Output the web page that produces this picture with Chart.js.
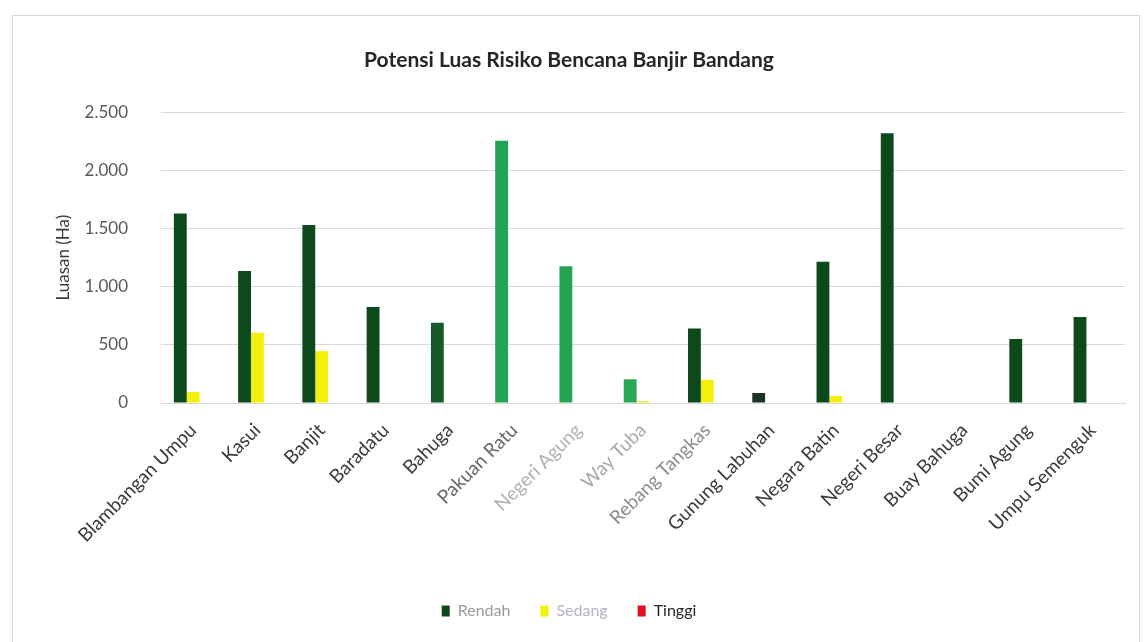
<!DOCTYPE html>
<html lang="id">
<head>
<meta charset="utf-8">
<title>Potensi Luas Risiko Bencana Banjir Bandang</title>
<script src="https://cdn.jsdelivr.net/npm/chart.js@4.4.1/dist/chart.umd.min.js"></script>
<style>
    html, body { margin: 0; padding: 0; background: #ffffff; }
    #chart-box {
        position: absolute;
        left: 12px;
        top: 15px;
        width: 1128px;
        height: 640px;
        border: 1px solid #d9d9d9;
        box-sizing: border-box;
    }
</style>
</head>
<body>
<div id="chart-box"><canvas id="chart-banjir"></canvas></div>
<script>
// Kecamatan
const kecamatan = [
    'Blambangan Umpu', 'Kasui', 'Banjit', 'Baradatu', 'Bahuga',
    'Pakuan Ratu', 'Negeri Agung', 'Way Tuba', 'Rebang Tangkas', 'Gunung Labuhan',
    'Negara Batin', 'Negeri Besar', 'Buay Bahuga', 'Bumi Agung', 'Umpu Semenguk'
];

// Luasan (Ha) per kelas risiko
const rendah = [1630, 1135, 1530, 825, 690, 2255, 1175, 205, 640, 85, 1215, 2320, 0, 550, 740];
const sedang = [95, 605, 445, 0, 0, 0, 0, 15, 200, 0, 60, 0, 0, 0, 0];
const tinggi = [0, 0, 0, 0, 0, 0, 0, 0, 0, 0, 0, 0, 0, 0, 0];

const yTicks = [0, 500, 1000, 1500, 2000, 2500];

// Warna batang "Rendah" (beberapa batang tercetak lebih terang)
const warnaRendah = [
    '#0c4a1b', '#0c4a1b', '#0c4a1b', '#0c4a1b', '#155a28',
    '#23a452', '#23a452', '#27a855', '#0c4a1b', '#1c3427',
    '#0c4a1b', '#0c4a1b', '#0c4a1b', '#0c4a1b', '#0c4a1b'
];

// Warna label sumbu X (sebagian pudar)
const warnaLabel = [
    '#3a3a3a', '#3a3a3a', '#3a3a3a', '#3a3a3a', '#3a3a3a',
    '#666666', '#b0b0b0', '#a8a8a8', '#8c8c8c', '#3a3a3a',
    '#3a3a3a', '#3a3a3a', '#3a3a3a', '#3a3a3a', '#3a3a3a'
];

const FONT = 'Lato, "Open Sans", "Liberation Sans", sans-serif';

// Format angka gaya Indonesia: 2.500
function formatRibuan(v) {
    return String(v).replace(/\B(?=(\d{3})+(?!\d))/g, '.');
}

const ctx = document.getElementById('chart-banjir').getContext('2d');

new Chart(ctx, {
    type: 'bar',
    data: {
        labels: kecamatan,
        datasets: [
            { label: 'Rendah', data: rendah, backgroundColor: warnaRendah },
            { label: 'Sedang', data: sedang, backgroundColor: '#f4f00c' },
            { label: 'Tinggi', data: tinggi, backgroundColor: '#e3101c' }
        ]
    },
    options: {
        responsive: true,
        maintainAspectRatio: false,
        animation: false,
        datasets: {
            bar: { categoryPercentage: 0.6, barPercentage: 1.0 }
        },
        layout: {
            padding: { left: 0, right: 14, top: 0, bottom: 25 }
        },
        plugins: {
            title: {
                display: true,
                text: 'Potensi Luas Risiko Bencana Banjir Bandang',
                color: '#262626',
                font: { family: FONT, size: 21, weight: 'bold' },
                padding: { top: 32, bottom: 39 }
            },
            legend: {
                position: 'bottom',
                labels: {
                    font: { family: FONT, size: 16 },
                    color: '#404040',
                    boxWidth: 8,
                    boxHeight: 11,
                    padding: 30,
                    generateLabels: function (chart) {
                        const pudar = ['#9a9a9a', '#b8b0cc', '#262626'];
                        const kotak = ['#0c4a1b', '#f4f00c', '#e3101c'];
                        return chart.data.datasets.map(function (ds, i) {
                            return {
                                text: ds.label,
                                fillStyle: kotak[i],
                                strokeStyle: kotak[i],
                                lineWidth: 0,
                                fontColor: pudar[i],
                                hidden: !chart.isDatasetVisible(i),
                                datasetIndex: i
                            };
                        });
                    }
                }
            },
            tooltip: { enabled: false }
        },
        scales: {
            x: {
                grid: { display: false, drawTicks: false },
                border: { display: true, color: '#d9d9d9' },
                ticks: {
                    autoSkip: false,
                    maxRotation: 45,
                    minRotation: 45,
                    padding: 16,
                    color: function (c) { return warnaLabel[c.index]; },
                    font: { family: FONT, size: 19 }
                },
                afterFit: function (scale) { scale.height = 170; }
            },
            y: {
                min: 0,
                max: 2500,
                afterBuildTicks: function (scale) {
                    scale.ticks = yTicks.map(function (v) { return { value: v }; });
                },
                grid: { color: '#d9d9d9', drawTicks: false },
                border: { display: false },
                ticks: {
                    padding: 33,
                    color: '#595959',
                    font: { family: FONT, size: 17 },
                    callback: function (v) { return formatRibuan(v); }
                },
                title: {
                    display: true,
                    text: 'Luasan (Ha)',
                    color: '#3a3a3a',
                    font: { family: FONT, size: 17 },
                    padding: { top: 40, bottom: 0 }
                },
                afterFit: function (scale) { scale.width = 148; }
            }
        }
    }
});
</script>
</body>
</html>
